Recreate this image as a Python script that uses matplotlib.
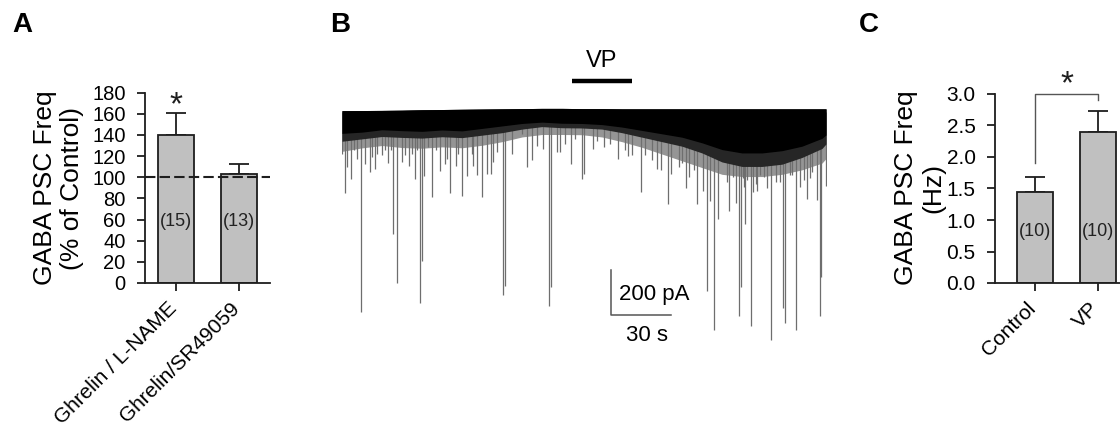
import numpy as np
import matplotlib
matplotlib.use("Agg")
import matplotlib.pyplot as plt

plt.rcParams['font.family'] = ['Liberation Sans', 'DejaVu Sans']

# ---------------- data ----------------
# Panel A
a_categories = ["Ghrelin / L-NAME", "Ghrelin/SR49059"]
a_values = [140, 103]
a_errors = [21, 10]
a_n = ["(15)", "(13)"]
a_yticks = [0, 20, 40, 60, 80, 100, 120, 140, 160, 180]

# Panel C
c_categories = ["Control", "VP"]
c_values = [1.45, 2.39]
c_errors = [0.23, 0.34]
c_n = ["(10)", "(10)"]
c_yticks = [0.0, 0.5, 1.0, 1.5, 2.0, 2.5, 3.0]

# Panel B trace: envelope of the dense event band (time s, pA)
env_t = [0, 10, 20, 30, 40, 50, 60, 70, 80, 90, 100, 110, 120, 130, 140, 150,
         160, 170, 180, 190, 200, 210, 220, 230, 240, 242]
env_base = [0, 0.5, 1, 2, 4, 5, 6, 7, 8, 9, 10, 10, 9, 9, 8, 8,
            8, 8, 8, 8, 8, 8, 8, 8, 8, 8]
env_core = [95, 90, 80, 85, 90, 85, 90, 80, 70, 60, 55, 60, 60, 65, 75, 90,
            105, 120, 145, 175, 190, 190, 180, 160, 125, 110]
env_mid = [130, 120, 110, 115, 120, 115, 120, 110, 100, 85, 75, 80, 80, 85, 100, 120,
           140, 160, 190, 230, 250, 250, 240, 210, 170, 150]
env_fringe = [175, 160, 150, 160, 165, 160, 165, 155, 140, 120, 110, 110, 110, 120, 140, 165,
              195, 225, 255, 285, 295, 295, 285, 265, 235, 215]
# individual events (time s, amplitude pA)
spike_t = [9.3, 25.7, 27.7, 39.2, 40.0, 80.3, 81.3, 103.5, 104.7, 182.6, 186.0, 198.5,
           199.7, 204.3, 214.3, 220.7, 221.5, 227.2, 238.8, 239.3,
           1.7, 4.7, 13.8, 16.7, 19.8, 23.0, 29.8, 33.3, 36.3, 41.0, 45.0, 49.0, 51.5,
           53.8, 57.0, 60.0, 62.3, 65.7, 67.3, 69.8, 72.3, 74.3, 85.2, 92.3, 94.8,
           100.7, 109.0, 114.3, 120.0, 125.3, 137.8, 143.0, 149.5, 154.8, 159.5, 162.8,
           164.7, 169.8, 171.8, 177.5, 180.7, 184.0, 188.0, 192.3, 193.5, 196.8, 200.7,
           201.5, 205.7, 207.7, 209.0, 212.3, 219.0, 224.0, 229.0, 232.7, 234.0, 241.8,
           0.0, 2.7, 6.0, 7.7, 11.3, 15.0, 17.7, 21.3, 24.7, 31.3, 35.0, 37.7, 43.0,
           47.2, 52.7, 58.0, 64.8, 75.7, 77.7, 89.8, 97.3, 107.3, 111.5, 116.5, 121.0,
           127.5, 130.8, 134.2, 141.7, 145.0, 151.7, 157.5, 168.3, 173.3, 175.8,
           195.7, 201.0, 202.7, 206.8, 211.0, 216.8, 225.2, 231.0, 235.2, 237.7]
spike_amp = [887, 543, 758, 850, 662, 813, 774, 862, 780, 795, 970, 905,
             780, 950, 1015, 870, 940, 970, 905, 735,
             360, 299, 265, 254, 192, 225, 221, 240, 298, 285, 376, 262, 230,
             358, 240, 373, 285, 240, 280, 380, 275, 275, 185, 245, 215,
             165, 180, 230, 300, 165, 210, 195, 355, 215, 260, 410,
             275, 225, 340, 410, 350, 395, 475, 310, 440, 405, 295,
             500, 355, 350, 280, 340, 310, 280, 333, 385, 295, 330,
             186, 245, 171, 208, 230, 200, 186, 171, 171, 193, 186, 171, 156,
             171, 208, 186, 186, 223, 178, 97, 149, 178, 141, 119, 275,
             127, 156, 141, 171, 193, 193, 253, 245, 290, 260,
             290, 334, 304, 319, 290, 312, 282, 304, 267, 393]
vp_bar = [115, 145]
scale_pA = 200
scale_s = 30

# ---------------- figure ----------------
W, H = 1120, 429
fig = plt.figure(figsize=(W / 100, H / 100), dpi=100)


def rect(x0, y0, x1, y1):
    return [x0 / W, 1 - y1 / H, (x1 - x0) / W, (y1 - y0) / H]


def px(x, y):
    return x / W, 1 - y / H


bar_fc = '#c0c0c0'
edge = '#1e1e1e'
lw = 1.3


def bar_panel(ax, cats, vals, errs, ns, yticks, ylim, xlim, n_y, fmt, tfs):
    x = np.arange(len(cats))
    ax.bar(x, vals, width=0.57, color=bar_fc, edgecolor=edge, linewidth=lw, zorder=2)
    ax.errorbar(x, vals, yerr=[np.zeros(len(errs)), errs], fmt='none', ecolor=edge,
                elinewidth=lw, capsize=7, capthick=lw, zorder=1)
    for xi, n in zip(x, ns):
        ax.text(xi, n_y, n, ha='center', va='center', fontsize=13, color='#222222', zorder=4)
    ax.set_ylim(*ylim)
    ax.set_xlim(*xlim)
    ax.set_yticks(yticks)
    ax.set_yticklabels([fmt.format(v) for v in yticks], fontsize=tfs)
    ax.set_xticks(x)
    ax.set_xticklabels([])
    for xi, cat in zip(x, cats):
        ax.annotate(cat, xy=(xi, 0), xycoords=('data', 'axes fraction'),
                    xytext=(-6.5, -11.5), textcoords='offset points', rotation=45,
                    ha='right', va='top', rotation_mode='anchor', fontsize=15,
                    annotation_clip=False)
    for s in ['top', 'right']:
        ax.spines[s].set_visible(False)
    for s in ['left', 'bottom']:
        ax.spines[s].set_linewidth(lw)
        ax.spines[s].set_color(edge)
    ax.tick_params(direction='out', length=6, width=lw, color=edge)
    ax.tick_params(axis='y', pad=8)
    ax.tick_params(axis='x', length=6)
    ax.patch.set_alpha(0)


# Panel A
axA = fig.add_axes(rect(145, 92.7, 270, 283))
bar_panel(axA, a_categories, a_values, a_errors, a_n, a_yticks, (0, 180),
          (-0.492, 1.492), 58, '{:d}', 14.5)
axA.axhline(100, color=edge, lw=1.5, ls=(0, (5, 2)), zorder=3)
axA.text(0, 168, '*', ha='center', va='center', fontsize=24, color=edge)
fig.text(*px(58.5, 188), 'GABA PSC Freq\n(% of Control)', rotation=90, ha='center',
         va='center', fontsize=19, linespacing=1.17, multialignment='center')

# Panel C
axC = fig.add_axes(rect(995, 94, 1120, 283))
bar_panel(axC, c_categories, c_values, c_errors, c_n, c_yticks, (0, 3.0),
          (-0.635, 1.349), 0.81, '{:.1f}', 15)
axC.plot([0, 0, 1, 1], [1.9, 3.0, 3.0, 2.9], color='#555555', lw=1.0, clip_on=False)
axC.text(0.5, 3.14, '*', ha='center', va='center', fontsize=24, color=edge)
fig.text(*px(920, 188), 'GABA PSC Freq\n(Hz)', rotation=90, ha='center',
         va='center', fontsize=19, linespacing=1.17, multialignment='center')

# Panel B
axB = fig.add_axes(rect(342, 40, 827, 345))
axB.set_xlim(0, 242.5)
axB.set_ylim(-1035.6, 320)
axB.axis('off')
eb = np.array(env_base)
axB.fill_between(env_t, eb + 6, eb - np.array(env_fringe), color='#959595', lw=0, zorder=1)
st = np.array(spike_t)
sa = np.array(spike_amp)
axB.vlines(st, 0, -sa, colors='#6e6e6e', lw=0.9, zorder=2)
axB.fill_between(env_t, eb + 6, eb - np.array(env_mid), color='#262626', lw=0, zorder=3)
axB.fill_between(env_t, eb + 6, eb - np.array(env_core), color='black', lw=0, zorder=4)
axB.plot(vp_bar, [138, 138], color='black', lw=3.2, solid_capstyle='butt')
axB.text(sum(vp_bar) / 2, 178, 'VP', ha='center', va='bottom', fontsize=17)
x0, y0 = 134.5, -902
axB.plot([x0, x0, x0 + scale_s], [y0 + scale_pA, y0, y0], color='#555555', lw=1.1)
axB.text(138.5, y0 + scale_pA / 2 - 10, f'{scale_pA} pA', ha='left', va='center',
         fontsize=16)
axB.text(x0 + scale_s / 2 + 3, y0 - 92, f'{scale_s} s', ha='center', va='center',
         fontsize=16)

# panel letters
for lab, (x, y) in zip('ABC', [(22, 25), (340, 25), (869, 25)]):
    fig.text(*px(x, y), lab, ha='center', va='center', fontsize=20, fontweight='bold')

fig.savefig('out.png', dpi=100)
